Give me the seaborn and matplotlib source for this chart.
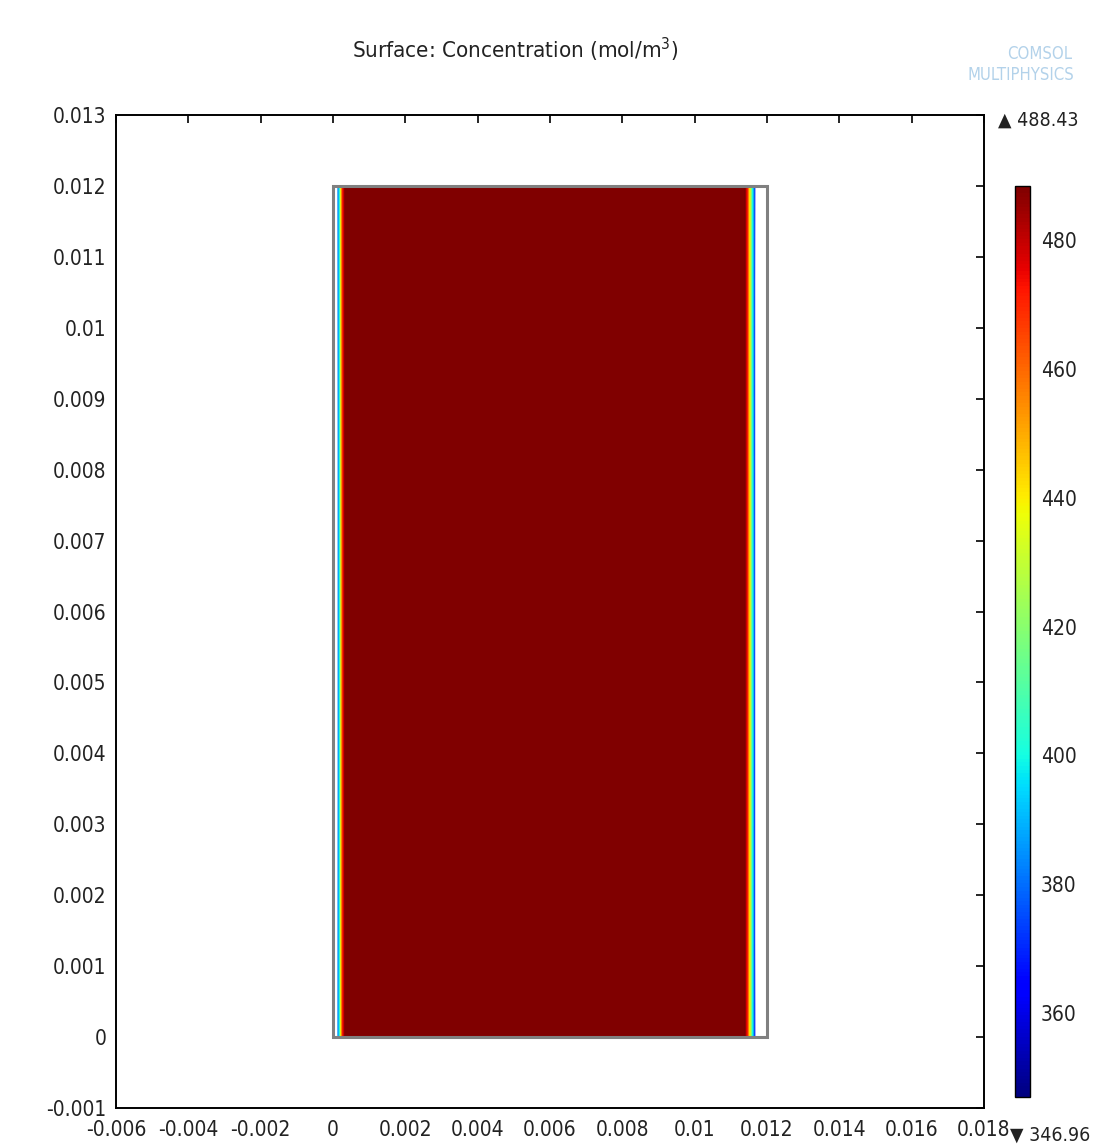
import matplotlib
matplotlib.use("Agg")
import matplotlib.pyplot as plt
import seaborn as sns
import numpy as np

# concentration profile across the domain (mol/m^3), x positions in m
x_pos = [0.00014, 0.00018, 0.00022, 0.00025, 0.00028, 0.00033,
         0.0060,
         0.01140, 0.01145, 0.01149, 0.01153, 0.01157, 0.01161, 0.01166]
conc = [385, 400, 440, 460, 475, 488,
        488.43,
        488, 475, 460, 440, 420, 400, 370]
y_pos = [0.0, 0.012]
c_min, c_max = 346.96, 488.43

x_ticks = [-0.006, -0.004, -0.002, 0, 0.002, 0.004, 0.006, 0.008, 0.01,
           0.012, 0.014, 0.016, 0.018]
x_labels = ["-0.006", "-0.004", "-0.002", "0", "0.002", "0.004", "0.006",
            "0.008", "0.01", "0.012", "0.014", "0.016", "0.018"]
y_ticks = [-0.001, 0, 0.001, 0.002, 0.003, 0.004, 0.005, 0.006, 0.007,
           0.008, 0.009, 0.01, 0.011, 0.012, 0.013]
y_labels = ["-0.001", "0", "0.001", "0.002", "0.003", "0.004", "0.005",
            "0.006", "0.007", "0.008", "0.009", "0.01", "0.011", "0.012",
            "0.013"]
cbar_ticks = [360, 380, 400, 420, 440, 460, 480]

sns.set_theme(style="white")
plt.rcParams["font.family"] = ["DejaVu Sans"]
plt.rcParams["font.stretch"] = "condensed"
plt.rcParams["axes.unicode_minus"] = False

fig = plt.figure(figsize=(10.94, 11.45), dpi=100)
W, H = 1094, 1145
ax = fig.add_axes([116 / W, 1 - 1108 / H, (984 - 116) / W, (1108 - 115) / H])

X, Y = np.meshgrid(x_pos, y_pos)
C = np.vstack([conc, conc])
mesh = ax.pcolormesh(X, Y, C, cmap="jet", vmin=c_min, vmax=c_max,
                     shading="gouraud", rasterized=True)

# domain outline
ax.add_patch(plt.Rectangle((0, 0), 0.012, 0.012, fill=False,
                           edgecolor="#808080", linewidth=2.2, zorder=3))

ax.set_xlim(-0.006, 0.018)
ax.set_ylim(-0.001, 0.013)
ax.set_xticks(x_ticks)
ax.set_xticklabels(x_labels)
ax.set_yticks(y_ticks)
ax.set_yticklabels(y_labels)
ax.tick_params(direction="in", length=6, width=1.2, color="black",
               top=True, right=True, labelsize=15, labelcolor="#222222")
ax.tick_params(axis="x", pad=9)
ax.tick_params(axis="y", pad=7)
for s in ax.spines.values():
    s.set_color("black")
    s.set_linewidth(1.4)

cax = fig.add_axes([1015 / W, 1 - 1097 / H, 15 / W, (1097 - 186) / H])
cb = fig.colorbar(mesh, cax=cax, ticks=cbar_ticks)
cb.outline.set_edgecolor("black")
cb.outline.set_linewidth(1.0)
cax.tick_params(direction="in", length=4, width=1, color="black",
                left=True, right=True, labelsize=15, labelcolor="#222222",
                pad=8)

fig.text(515 / W, 1 - 50 / H, "Surface: Concentration (mol/m$^3$)",
         ha="center", va="center", fontsize=16, color="#222222")
fig.text(998 / W, 1 - 120 / H, "\u25b2 488.43", ha="left", va="center",
         fontsize=14, color="#222222")
fig.text(1010 / W, 1 - 1135 / H, "\u25bc 346.96", ha="left", va="center",
         fontsize=14, color="#222222")
fig.text(1072 / W, 1 - 54 / H, "COMSOL", ha="right", va="center",
         fontsize=12, color="#b3d2ea")
fig.text(1074 / W, 1 - 75 / H, "MULTIPHYSICS", ha="right", va="center",
         fontsize=12, color="#b3d2ea")

fig.savefig("out.png", dpi=100)
